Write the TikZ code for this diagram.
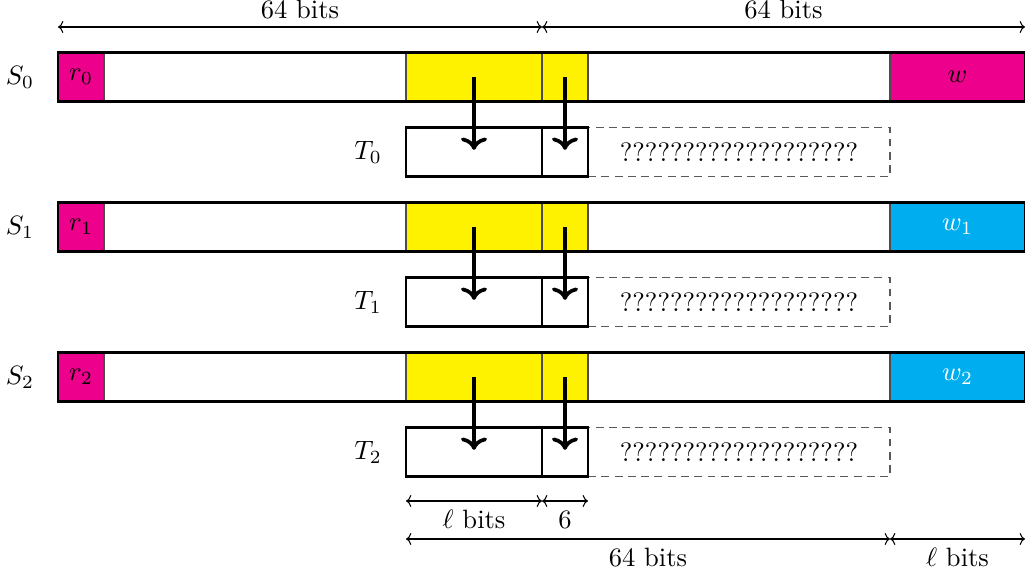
\documentclass[tikz,border=0pt]{standalone}
\usetikzlibrary{arrows.meta}
\definecolor{mag}{RGB}{236,0,140}
\definecolor{yel}{RGB}{255,242,0}
\definecolor{cyanc}{RGB}{0,174,239}
\def\pxu{0.3765pt}
\def\qs{???????????????????}
\tikzset{
  cell/.style={draw=black!70, line width=0.4pt, minimum height=49*\pxu, inner sep=0pt, outer sep=0pt},
  barbox/.style={draw=black, line width=0.9pt, minimum height=49*\pxu, inner sep=0pt, outer sep=0pt},
  tcell/.style={draw=black, line width=0.4pt, minimum height=49*\pxu, inner sep=0pt, outer sep=0pt},
  dashbox/.style={draw=black!65, line width=0.5pt, dash pattern=on 3pt off 2pt, minimum height=49*\pxu, inner sep=0pt, outer sep=0pt},
  bigarrow/.style={line width=1.4pt, ->},
  dim/.style={line width=0.4pt, {To[length=2pt,width=4.5pt]}-{To[length=2pt,width=4.5pt]}},
  lbl/.style={inner sep=0pt}
}
\begin{document}
\begin{tikzpicture}[x=0.3765pt, y=-0.3765pt]
\useasboundingbox (0,0) rectangle (1025,578);

% ---------- top dimensions ----------
\coordinate (top0) at (58,27);
\coordinate (top1) at (542,27);
\coordinate (top2) at (1025,27);
\draw[dim] (top0) -- node[above, inner sep=2.6pt, name=toplab0] {64 bits} (top1);
\draw[dim] (top1) -- node[above, inner sep=2.6pt, name=toplab1] {64 bits} (top2);

% ---------- rows ----------
\foreach \i/\c/\t/\wc/\wl in {0/77/152/mag/{$w$}, 1/227/302/cyanc/{\color{white}$w_1$}, 2/377/452/cyanc/{\color{white}$w_2$}}{
  \node[cell, fill=mag, minimum width=46*\pxu] (r\i) at (81,\c) {$r_\i$};
  \node[cell, fill=yel, minimum width=136*\pxu] (ya\i) at (474,\c) {};
  \node[cell, fill=yel, minimum width=46*\pxu] (yb\i) at (565,\c) {};
  \node[cell, fill=\wc, minimum width=135*\pxu] (w\i) at (957.5,\c) {\wl};
  \node[barbox, minimum width=967*\pxu] (Sbar\i) at (541.5,\c) {};
  \node[lbl] (S\i) at (20,\c) {$S_\i$};
  \node[dashbox, minimum width=302*\pxu] (q\i) at (739,\t) {\qs};
  \node[tcell, minimum width=136*\pxu] (ta\i) at (474,\t) {};
  \node[tcell, minimum width=46*\pxu] (tb\i) at (565,\t) {};
  \node[barbox, minimum width=182*\pxu] (Tbox\i) at (497,\t) {};
  \node[lbl] (T\i) at (368,\t) {$T_\i$};
  \draw[bigarrow] (ya\i.center) -- ([yshift=0.8pt]ta\i.center);
  \draw[bigarrow] (yb\i.center) -- ([yshift=0.8pt]tb\i.center);
}

% ---------- bottom dimensions ----------
\coordinate (b0) at (406,501);
\coordinate (b1) at (542,501);
\coordinate (b2) at (588,501);
\draw[dim] (b0) -- node[below, name=blab0] {$\ell$ bits} (b1);
\draw[dim] (b1) -- node[below, name=blab1] {6} (b2);
\coordinate (c0) at (406,539);
\coordinate (c1) at (890,539);
\coordinate (c2) at (1025,539);
\draw[dim] (c0) -- node[below, name=clab0] {64 bits} (c1);
\draw[dim] (c1) -- node[below, name=clab1] {$\ell$ bits} (c2);
\end{tikzpicture}
\end{document}
